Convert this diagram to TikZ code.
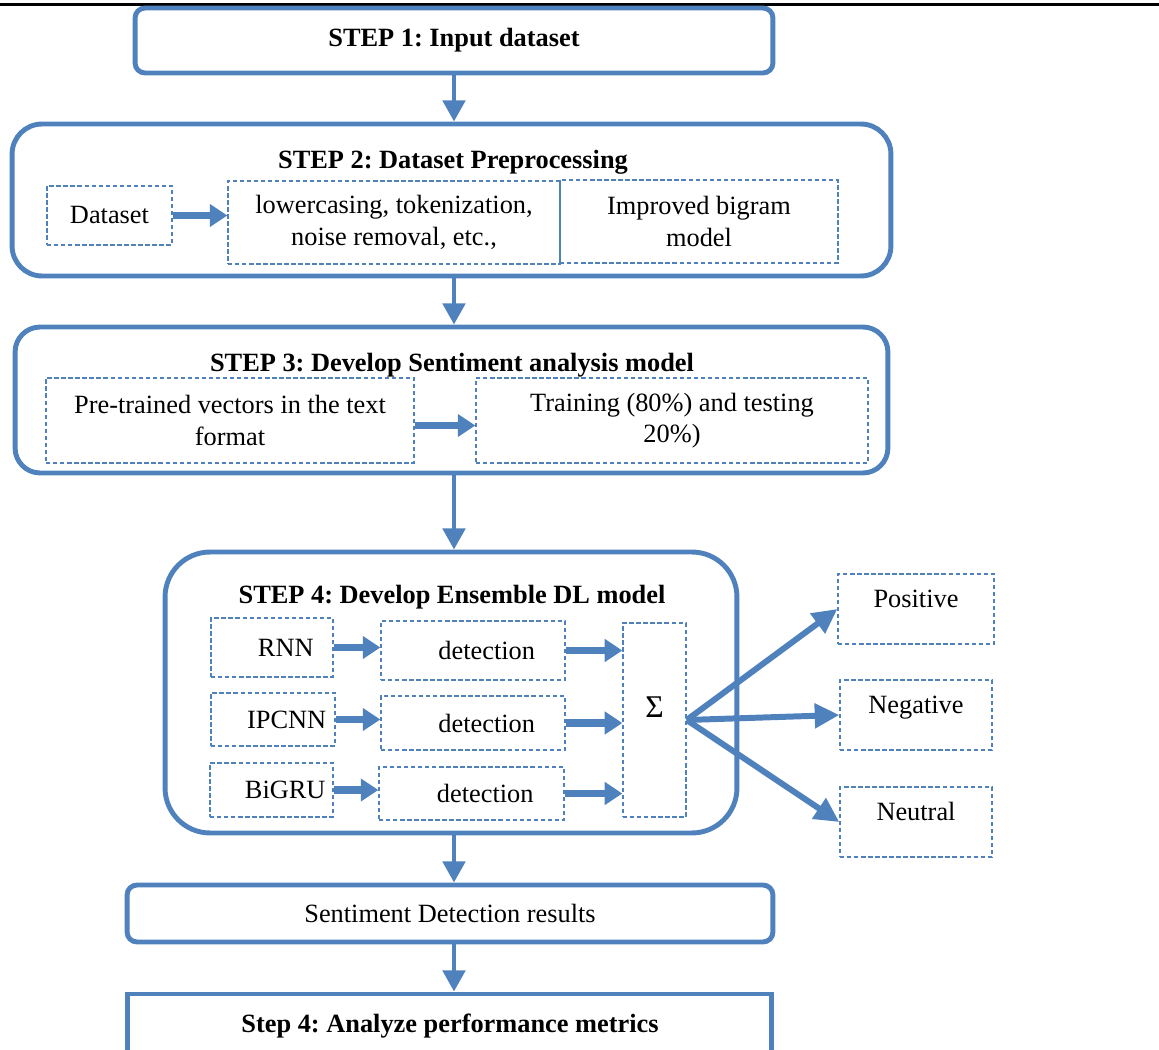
\documentclass[tikz,border=0pt]{standalone}
\usepackage{fontspec}
\setmainfont{Liberation Serif}
\usetikzlibrary{arrows.meta}
\frenchspacing
\definecolor{stepblue}{HTML}{4F81BD}
\tikzstyle{stepbox}=[draw=stepblue, line width=2.8pt, inner sep=0pt]
\tikzstyle{dashbox}=[draw=stepblue, line width=0.8pt, dash pattern=on 2.5pt off 1.5pt, align=center, inner sep=0pt]
\tikzstyle{modelbox}=[draw=stepblue, line width=0.8pt, dash pattern=on 2.5pt off 1.5pt, inner sep=0pt, execute at begin node=\hspace*{0.55cm}]
\tikzstyle{classbox}=[dashbox, minimum height=1.4cm, text height=0.35cm, text depth=0.42cm]
\tikzstyle{title}=[font=\fontsize{15}{18}\selectfont\bfseries]
\tikzstyle{bigarrow}=[stepblue, line width=2.8pt, -{Triangle[length=12pt,width=12.5pt]}]
\tikzstyle{fatarrow}=[stepblue, line width=4pt, -{Triangle[length=10pt,width=12.5pt]}]
\tikzstyle{outarrow}=[stepblue, line width=3.4pt, -{Triangle[length=14pt,width=13.5pt]}]

\begin{document}
\begin{tikzpicture}[x=0.02cm, y=-0.02cm, font=\fontsize{15}{18}\selectfont]
	\clip (0,0) rectangle (1159,1050);
	\draw[line width=1.7pt] (0,5) -- (1159,5);
	% step 1
	\node[stepbox, rounded corners=0.2cm, minimum width=12.76cm, minimum height=1.3cm, title] (step1) at (454,40.5) {STEP 1: Input dataset};
	% step 2
	\node[stepbox, rounded corners=0.6cm, minimum width=17.58cm, minimum height=3.04cm] (step2) at (451.5,200) {};
	\node[title] (t2) at (453,162) {STEP 2: Dataset Preprocessing};
	\node[dashbox, minimum width=2.5cm, minimum height=1.18cm] (data) at (109.5,215.5) {Dataset};
	\node[dashbox, minimum width=6.64cm, minimum height=1.66cm] (clean) at (394,222.5) {lowercasing, tokenization,\\noise removal, etc.,};
	\node[dashbox, minimum width=5.56cm, minimum height=1.66cm] (bigram) at (699,221.5) {Improved bigram\\model};
	\draw[fatarrow] (data.east) -- (data.east -| clean.west);
	% step 3
	\node[stepbox, rounded corners=0.5cm, minimum width=17.46cm, minimum height=2.92cm] (step3) at (451.5,400) {};
	\node[title] (t3) at (452,365) {STEP 3: Develop Sentiment analysis model};
	\node[dashbox, minimum width=7.36cm, minimum height=1.7cm] (vec) at (230,420.5) {Pre-trained vectors in the text\\format};
	\node[dashbox, minimum width=7.84cm, minimum height=1.7cm] (split) at (672,420.5) {Training (80\%) and testing\\20\%)};
	\draw[fatarrow] ([yshift=-0.1cm]vec.east) -- ([yshift=-0.1cm]split.west);
	% step 4
	\node[stepbox, rounded corners=0.9cm, minimum width=11.44cm, minimum height=5.62cm] (step4) at (451,692.5) {};
	\node[title] (t4) at (452,597) {STEP 4: Develop Ensemble DL model};
	\node[modelbox, minimum width=2.44cm, minimum height=1.18cm] (rnn) at (272,647.5) {RNN};
	\node[modelbox, minimum width=2.48cm, minimum height=1.06cm] (ipcnn) at (273,719.5) {IPCNN};
	\node[modelbox, minimum width=2.46cm, minimum height=1.08cm] (bigru) at (271.5,790) {BiGRU};
	\node[modelbox, minimum width=3.68cm, minimum height=1.18cm] (det1) at (473,650.5) {detection};
	\node[modelbox, minimum width=3.68cm, minimum height=1.08cm] (det2) at (473,723) {detection};
	\node[modelbox, minimum width=3.7cm, minimum height=1.06cm] (det3) at (471.5,793.5) {detection};
	\node[dashbox, minimum width=1.26cm, minimum height=3.88cm, text height=0.4cm, text depth=0.5cm, font=\fontsize{18}{18}\selectfont] (sum) at (654.5,720) {Σ};
	\draw[fatarrow] (rnn.east) -- (rnn.east -| det1.west);
	\draw[fatarrow] (ipcnn.east) -- (ipcnn.east -| det2.west);
	\draw[fatarrow] (bigru.east) -- (bigru.east -| det3.west);
	\draw[fatarrow] (det1.east) -- (det1.east -| sum.west);
	\draw[fatarrow] (det2.east) -- (det2.east -| sum.west);
	\draw[fatarrow] (det3.east) -- (det3.east -| sum.west);
	% outputs
	\node[classbox, minimum width=3.12cm] (pos) at (916,609) {Positive};
	\node[classbox, minimum width=3.04cm] (neg) at (916,715) {Negative};
	\node[classbox, minimum width=3.04cm] (neu) at (916,822) {Neutral};
	\draw[outarrow] (sum.east) -- (pos.west);
	\draw[outarrow] (sum.east) -- (neg.west);
	\draw[outarrow] (sum.east) -- (neu.west);
	% results
	\node[stepbox, rounded corners=0.2cm, minimum width=12.92cm, minimum height=1.14cm] (results) at (450,913.5) {Sentiment Detection results};
	\node[stepbox, minimum width=12.9cm, minimum height=1.52cm] (metrics) at (449.5,1032) {};
	\node[title] (t5) at (450,1026) {Step 4: Analyze performance metrics};
	% main flow
	\draw[bigarrow] (step1.south) -- (step1.south |- step2.north);
	\draw[bigarrow] (step2.south -| step1.south) -- (step3.north -| step1.south);
	\draw[bigarrow] (step3.south -| step1.south) -- (step4.north -| step1.south);
	\draw[bigarrow] (step4.south -| step1.south) -- (results.north -| step1.south);
	\draw[bigarrow] (results.south -| step1.south) -- (metrics.north -| step1.south);
\end{tikzpicture}
\end{document}
